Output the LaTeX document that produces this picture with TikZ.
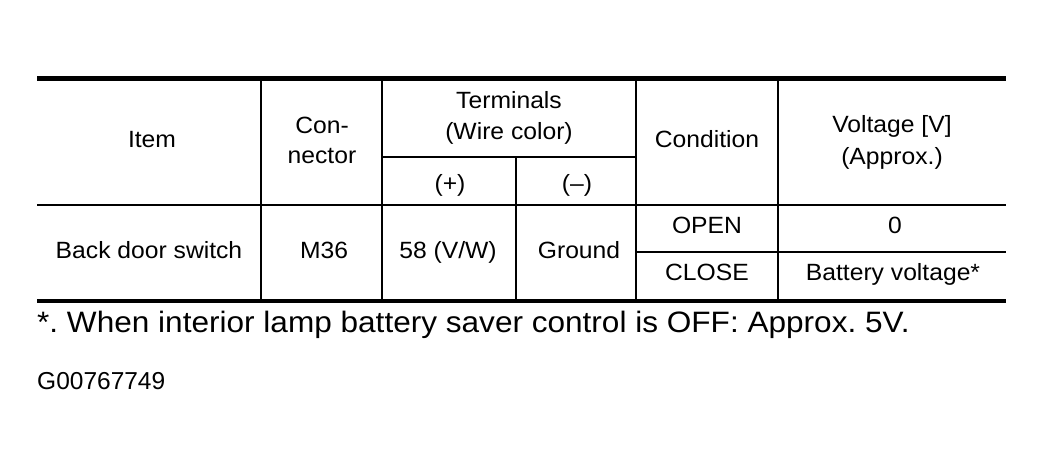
\documentclass[tikz,border=0pt]{standalone}
\usepackage{fontspec}
\newfontfamily\tabfont[FakeStretch=1.05]{Liberation Sans}
\newfontfamily\notefont[FakeStretch=1.07]{Liberation Sans}
\newfontfamily\plainfont{Liberation Sans}
\frenchspacing
\begin{document}
\begin{tikzpicture}[x=1pt,y=-1pt,
  cell/.style={inner sep=0pt,anchor=base,font=\tabfont\fontsize{23.5}{28}\selectfont},
  note/.style={inner sep=0pt,anchor=base west,font=\notefont\fontsize{29.5}{34}\selectfont},
  code/.style={inner sep=0pt,anchor=base west,font=\plainfont\fontsize{24.5}{29}\selectfont},
  thickrule/.style={line width=5pt},
  botrule/.style={line width=4pt},
  thinrule/.style={line width=2pt}]
\useasboundingbox (0,0) rectangle (1044,464);
\fill[white] (0,0) rectangle (1044,464);
% rules
\draw[thickrule] (37,78) -- (1006,78);
\draw[botrule] (37,301) -- (1006,301);
\draw[thinrule] (37,205) -- (1006,205);
\draw[thinrule] (382,157) -- (636,157);
\draw[thinrule] (636,252) -- (1006,252);
\foreach \x in {261,382,636,778} \draw[thinrule] (\x,78) -- (\x,301);
\draw[thinrule] (516,157) -- (516,301);
% header
\node[cell] (item) at (152,147) {Item};
\node[cell] (con1) at (322,133) {Con-};
\node[cell] (con2) at (322,163) {nector};
\node[cell] (term1) at (509,108) {Terminals};
\node[cell] (term2) at (509,139) {(Wire color)};
\node[cell] (plus) at (450,191) {(+)};
\node[cell] (minus) at (577,191) {(–)};
\node[cell] (cond) at (707,147) {Condition};
\node[cell] (volt1) at (892,132) {Voltage [V]};
\node[cell] (volt2) at (892,164) {(Approx.)};
% body
\node[cell] (bds) at (149,258) {Back door switch};
\node[cell] (m36) at (324,258) {M36};
\node[cell] (v58) at (448,258) {58 (V/W)};
\node[cell] (gnd) at (579,258) {Ground};
\node[cell] (open) at (707,233) {OPEN};
\node[cell] (zero) at (895,233) {0};
\node[cell] (close) at (707,280) {CLOSE};
\node[cell] (batt) at (893,280) {Battery voltage*};
% notes
\node[note] (fn) at (37,332) {*. When interior lamp battery saver control is OFF: Approx. 5V.};
\node[code] (gid) at (37,389) {G00767749};
\end{tikzpicture}
\end{document}
